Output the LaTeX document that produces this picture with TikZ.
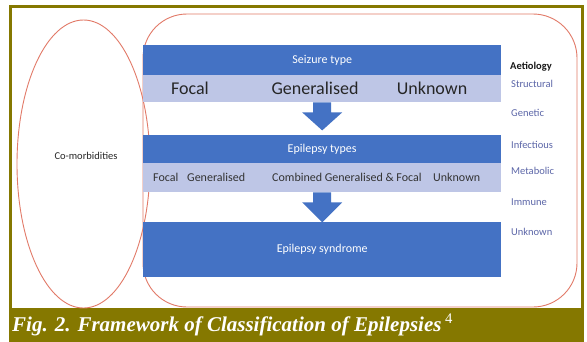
\documentclass[tikz,border=0pt]{standalone}
\usepackage{fontspec}
\setsansfont{Carlito}
\newfontfamily\capfont{Liberation Serif}
\definecolor{framecol}{RGB}{133,120,0}
\definecolor{barblue}{RGB}{68,114,196}
\definecolor{barlight}{RGB}{190,198,230}
\definecolor{ringcol}{RGB}{226,122,104}
\definecolor{aetiocol}{RGB}{92,102,168}

\begin{document}
\begin{tikzpicture}[x=1pt,y=-1pt,
  bar/.style={fill=barblue,text=white,anchor=north west,minimum width=358pt,
    inner sep=0pt,font=\sffamily\fontsize{12}{14}\selectfont},
  lightbar/.style={fill=barlight,anchor=north west,minimum width=358pt,inner sep=0pt},
  bigtype/.style={text=black!85,font=\sffamily\fontsize{18}{20}\selectfont,inner sep=0pt},
  smalltype/.style={text=black!80,font=\sffamily\fontsize{12}{14}\selectfont,inner sep=0pt,anchor=west},
  cause/.style={text=aetiocol,font=\sffamily\fontsize{10.5}{12}\selectfont,inner sep=0pt,anchor=west}]
  \useasboundingbox (0,0) rectangle (587,341);
  \fill[white] (0,0) rectangle (587,341);

  % frame and caption band
  \fill[framecol] (9,308) rectangle (584,341);
  \draw[framecol,line width=3pt] (10.5,6.5) rectangle (582.5,341);
  \node[text=white,anchor=base west,inner sep=0pt,font=\capfont\fontsize{21}{24}\selectfont\bfseries\itshape] (caption) at (12,331)
    {Fig. 2. Framework of Classification of Epilepsies\,\textsuperscript{\upshape\mdseries 4}};

  % outlines
  \draw[ringcol,line width=0.9pt,rounded corners=44pt] (143,14) rectangle (577,307);
  \draw[ringcol,line width=0.9pt] (83.5,164) ellipse [x radius=66.5, y radius=144];
  \node[text=black!85,font=\sffamily\fontsize{10.5}{12}\selectfont,inner sep=0pt] (comorb) at (86,156) {Co-morbidities};

  % seizure type
  \node[bar,minimum height=30pt] (seiz) at (143,45) {Seizure type};
  \node[lightbar,minimum height=27pt] (seizlight) at (143,75) {};
  \node[bigtype] (sfocal) at (190,88.5) {Focal};
  \node[bigtype] (sgen) at (315,88.5) {Generalised};
  \node[bigtype] (sunk) at (432,88.5) {Unknown};
  \fill[barblue] (seizlight.south) ++(-9,0) -- ++(0,10) -- ++(-11,0) -- ++(20,18)
    -- ++(20,-18) -- ++(-11,0) -- ++(0,-10) -- cycle;

  % epilepsy types
  \node[bar,minimum height=28pt] (epi) at (143,135) {Epilepsy types};
  \node[lightbar,minimum height=29pt] (epilight) at (143,163) {};
  \node[smalltype] (efocal) at (153,177) {Focal};
  \node[smalltype] (egen) at (187,177) {Generalised};
  \node[smalltype] (ecomb) at (272,177) {Combined Generalised \& Focal};
  \node[smalltype] (eunk) at (433,177) {Unknown};
  \fill[barblue] (epilight.south) ++(-9,0) -- ++(0,10) -- ++(-11,0) -- ++(20,20)
    -- ++(20,-20) -- ++(-11,0) -- ++(0,-10) -- cycle;

  % epilepsy syndrome
  \node[bar,minimum height=55pt] (syn) at (143,222) {Epilepsy syndrome};

  % aetiology
  \node[anchor=west,inner sep=0pt,text=black!90,font=\sffamily\bfseries\fontsize{10.5}{12}\selectfont] (aetio) at (510,67) {Aetiology};
  \node[cause] (struct) at (511,84) {Structural};
  \node[cause] (genet) at (511,113) {Genetic};
  \node[cause] (infect) at (511,145) {Infectious};
  \node[cause] (metab) at (511,171) {Metabolic};
  \node[cause] (immun) at (511,202) {Immune};
  \node[cause] (unkn) at (511,232) {Unknown};
\end{tikzpicture}
\end{document}
